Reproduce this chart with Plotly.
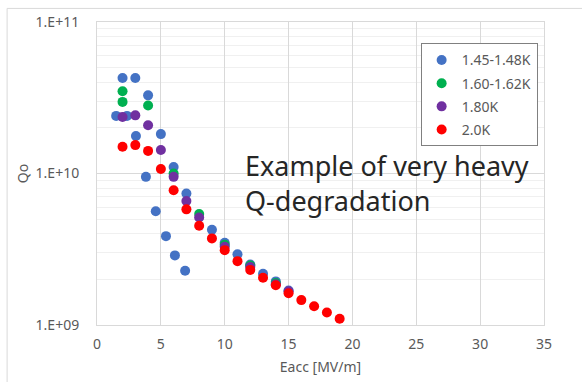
import plotly.graph_objects as go

# ---------------- data ----------------
series_names = ["1.45-1.48K", "1.60-1.62K", "1.80K", "2.0K"]
series_colors = ["#4472C4", "#00B050", "#7030A0", "#FF0000"]

blue_x = [2.0, 3.0, 4.0, 1.5, 2.35, 3.05, 5.0, 3.83, 6.0, 7.0, 4.6, 5.4, 6.1, 6.9,
          9.0, 10.0, 11.0, 12.0, 13.0, 14.0, 15.0]
blue_y = [4.27e10, 4.27e10, 3.28e10, 2.40e10, 2.40e10, 1.77e10, 1.82e10, 9.5e9, 1.105e10,
          7.38e9, 5.64e9, 3.86e9, 2.88e9, 2.28e9,
          4.25e9, 3.49e9, 2.93e9, 2.51e9, 2.18e9, 1.94e9, 1.69e9]

green_x = [2.0, 2.0, 4.0, 6.0, 8.0, 10.0, 12.0, 14.0]
green_y = [3.49e10, 2.97e10, 2.81e10, 1.0e10, 5.40e9, 3.38e9, 2.47e9, 1.89e9]

purple_x = [2.0, 3.0, 4.0, 5.0, 6.0, 7.0, 8.0, 10.0, 12.0, 14.0, 15.0]
purple_y = [2.36e10, 2.42e10, 2.08e10, 1.43e10, 9.5e9, 6.59e9, 5.13e9, 3.28e9, 2.41e9,
            1.86e9, 1.67e9]

red_x = [2.0, 3.0, 4.0, 5.0, 6.0, 7.0, 8.0, 9.0, 10.0, 11.0, 12.0, 13.0, 14.0, 15.0,
         16.0, 17.0, 18.0, 19.0]
red_y = [1.50e10, 1.54e10, 1.41e10, 1.07e10, 7.76e9, 5.80e9, 4.52e9, 3.73e9, 3.12e9,
         2.64e9, 2.31e9, 2.05e9, 1.83e9, 1.62e9, 1.46e9, 1.33e9, 1.21e9, 1.10e9]

y_tickvals = [1e9, 1e10, 1e11]
y_ticktext = ["1.E+09", "1.E+10", "1.E+11"]
x_tickvals = [0, 5, 10, 15, 20, 25, 30, 35]

x_title = "Eacc [MV/m]"
y_title = "Qo"
note_text = "Example of very heavy<br>Q-degradation"

# ---------------- figure ----------------
W, H = 582, 382
L, R, T, B = 97, 37.5, 21.6, 57
pw = W - L - R
ph = H - T - B

fig = go.Figure()
all_x = [blue_x, green_x, purple_x, red_x]
all_y = [blue_y, green_y, purple_y, red_y]
for i, (nm, col, xs, ys) in enumerate(zip(series_names, series_colors, all_x, all_y)):
    fig.add_trace(go.Scatter(
        x=xs, y=ys, mode="markers", name=nm, legendgroup=nm,
        marker=dict(color=col, size=10, line=dict(width=0)),
    ))

font_family = "Noto Sans, Open Sans, sans-serif"
grid_col = "#D9D9D9"

fig.update_layout(
    width=W, height=H,
    margin=dict(l=L, r=R, t=T, b=B, pad=0, autoexpand=False),
    paper_bgcolor="white", plot_bgcolor="white",
    font=dict(family=font_family, size=14, color="#595959"),
    showlegend=True,
    legend=dict(
        x=(421 - L) / pw, y=(H - B - 43) / ph, xanchor="left", yanchor="top",
        bgcolor="white", bordercolor="#808080", borderwidth=1,
        font=dict(size=14, color="#595959"),
        tracegroupgap=2, traceorder="grouped",
    ),
    xaxis=dict(
        range=[0, 35], tickvals=x_tickvals, showgrid=True, gridcolor=grid_col, gridwidth=1,
        zeroline=False, showline=True, linecolor=grid_col, linewidth=1, mirror=True,
        ticks="", ticklabelstandoff=6, tickfont=dict(size=14), automargin=False,
        title=dict(text=x_title, standoff=10, font=dict(size=14, color="#595959")),
    ),
    yaxis=dict(
        type="log", range=[9, 11], tickvals=y_tickvals, ticktext=y_ticktext,
        showgrid=True, gridcolor=grid_col, gridwidth=1,
        minor=dict(dtick="D1", showgrid=True, gridcolor="#F0F0F0", gridwidth=1, ticks=""),
        zeroline=False, showline=True, linecolor=grid_col, linewidth=1, mirror=True,
        ticks="", ticklabelstandoff=14, tickfont=dict(size=14), automargin=False,
        title=dict(text=y_title, standoff=3, font=dict(size=14, color="#595959")),
    ),
    annotations=[dict(
        text=note_text, xref="paper", yref="paper",
        x=(243 - L) / pw, y=(H - B - 145) / ph, xanchor="left", yanchor="top",
        showarrow=False, align="left",
        font=dict(family=font_family, size=27, color="#262626"),
    )],
    shapes=[dict(
        type="rect", xref="paper", yref="paper", layer="below",
        x0=(7 - L) / pw, x1=(W + 10 - L) / pw,
        y0=(H - B - (H + 10)) / ph, y1=(H - B - 8) / ph,
        line=dict(color="#D9D9D9", width=1), fillcolor="rgba(0,0,0,0)",
    )],
)

fig.write_html("out.html")
